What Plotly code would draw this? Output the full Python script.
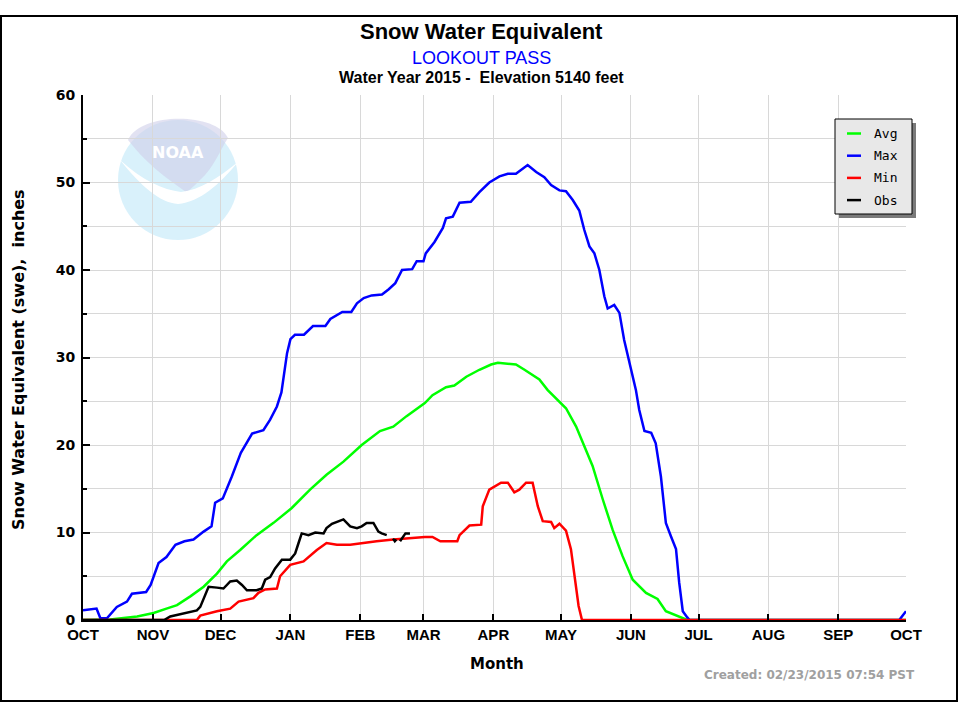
import pandas as pd
import plotly.graph_objects as go

# water year 2015, day offsets counted from Oct 1 2014
start = pd.Timestamp("2014-10-01")

avg_day = [0, 12, 24, 31.3, 37, 41.7, 47.6, 53.5, 59.4, 63.8, 69.7, 77, 84.5, 92.6, 100.7, 108,
           115.5, 123.6, 131.7, 137.6, 143.5, 151.6, 155, 161, 164.7, 170, 175.8, 181, 184, 192,
           195.8, 202.4, 206, 211.3, 214.2, 218.7, 223, 226, 230.5, 234.9, 239.3, 243.8, 249.7,
           254.8, 258.5, 263, 266, 268, 365]
avg_swe = [0, 0.05, 0.4, 0.8, 1.3, 1.7, 2.7, 3.8, 5.3, 6.7, 8.0, 9.7, 11.1, 12.8, 14.9, 16.6,
           18.1, 20.0, 21.6, 22.1, 23.3, 24.8, 25.7, 26.6, 26.8, 27.8, 28.6, 29.2, 29.4, 29.2,
           28.6, 27.5, 26.3, 25.0, 24.2, 22.1, 19.5, 17.6, 13.8, 10.3, 7.3, 4.6, 3.1,
           2.4, 1.0, 0.5, 0.15, 0, 0]

max_day = [0, 3, 6, 7.7, 10.6, 15, 19.5, 21.7, 28, 30, 32, 33.5, 37, 41, 45, 49, 53.5, 57, 58.6,
           62, 66, 70, 75, 80, 83, 86, 88, 89.5, 90.5, 92, 94, 98, 102, 107.5, 109.7, 115, 119,
           121.5, 124.5, 128, 132.6, 135.6, 138.5, 141.5, 146, 148, 151, 152, 155.9, 159.6, 161,
           164, 167, 172, 175.8, 180.2, 184.7, 188.4, 192, 197.2, 201, 204.6, 207.6, 211.3,
           214.2, 217.2, 220.1, 222.3, 224.6, 226.8, 229, 231.2, 232.7, 235.6, 237.9, 240,
           242.3, 245.2, 246.7, 249, 252, 254, 256.3, 258.5, 260.7, 263, 264.4, 266, 268, 269,
           362, 364.5, 365]
max_swe = [1.1, 1.2, 1.3, 0.2, 0.2, 1.5, 2.1, 3.0, 3.2, 4.0, 5.3, 6.5, 7.2, 8.6, 9.0, 9.2, 10.1,
           10.7, 13.4, 13.9, 16.4, 19.1, 21.3, 21.7, 22.9, 24.4, 26.0, 28.6, 30.5, 32.1, 32.6,
           32.6, 33.6, 33.6, 34.4, 35.2, 35.2, 36.2, 36.8, 37.1, 37.2, 37.8, 38.5, 40.0, 40.1,
           41.0, 41.0, 41.9, 43.2, 44.8, 45.9, 46.1, 47.7, 47.8, 48.9, 50.0, 50.7, 51.0, 51.0,
           52.0, 51.2, 50.6, 49.7, 49.1, 49.0, 48.0, 46.8, 44.6, 42.7, 41.9, 40.0, 37.0, 35.6,
           36.0, 35.1, 32.0, 29.4, 26.3, 24.0, 21.6, 21.4, 20.2, 16.4, 11.1, 9.6, 8.1, 4.3, 1.0,
           0.3, 0, 0, 0.9, 1.0]

min_day = [0, 50.5, 52, 59.4, 65.3, 69, 75.6, 77.8, 80.8, 86, 87.4, 91.9, 97.8, 103.7, 108,
           112.6, 118.5, 123.6, 130.2, 137.6, 145, 151.6, 155, 158.5, 166, 167, 171.4, 176.6,
           177.3, 180.2, 185.4, 188.4, 191.3, 193.5, 196.5, 199.4, 201.7, 203.9, 207.6, 209,
           211.3, 214.2, 216.4, 217.9, 219.8, 221.3, 365]
min_swe = [0, 0, 0.5, 1.0, 1.3, 2.1, 2.5, 3.1, 3.5, 3.6, 5.0, 6.3, 6.7, 8.0, 8.8,
           8.6, 8.6, 8.8, 9.0, 9.2, 9.4, 9.5, 9.5, 9.0, 9.0, 9.7, 10.8, 10.9,
           13.0, 14.9, 15.7, 15.7, 14.6, 14.9, 15.7, 15.7, 13.0, 11.3, 11.2, 10.5,
           11.0, 10.2, 8.1, 5.0, 1.6, 0, 0]

obs_day = [0, 36, 38.7, 42.4, 46, 50.5, 52, 53.5, 55.7, 59.4, 62.3, 65.3, 68.2, 70.5, 72.7, 77,
           79.3, 80.8, 83, 85.2, 88.2, 91.9, 94.1, 95.6, 97, 100, 103, 106.7, 108, 110.4, 114,
           115.5, 118.5, 121.5, 123.6, 125.8, 128.8, 131, 132.5, 134.7, 136, 137.5, 138.3, 139,
           139.8, 140.6, 142, 143, 145]
obs_swe = [0, 0, 0.4, 0.6, 0.8, 1.1, 1.5, 2.5, 3.8, 3.7, 3.6, 4.4, 4.5, 4.0, 3.4, 3.4,
           3.6, 4.6, 4.9, 5.9, 6.9, 6.9, 7.6, 8.8, 9.9, 9.7, 10.0, 9.9, 10.5, 11.0, 11.4,
           11.5, 10.7, 10.5, 10.7, 11.1, 11.1, 10.1, 9.9, 9.7, None, 9.3, 9.0, 9.2,
           None, 9.0, 9.5, 9.9, 9.9]

month_starts = pd.date_range("2014-10-01", "2015-10-01", freq="MS")
month_labels = ["OCT", "NOV", "DEC", "JAN", "FEB", "MAR", "APR", "MAY", "JUN", "JUL", "AUG", "SEP", "OCT"]

series = [("Avg", avg_day, avg_swe, "#00ff00"),
          ("Max", max_day, max_swe, "#0000ff"),
          ("Min", min_day, min_swe, "#ff0000"),
          ("Obs", obs_day, obs_swe, "#000000")]

W, H = 960, 720
L, R, T, B = 83, 906, 95, 620


def px(x):
    return (x - L) / (R - L)


def py(y):
    return (B - y) / (B - T)


def path(pts):
    s = ""
    for p in pts:
        if isinstance(p, str):
            s += p + " "
        else:
            s += "%.5f,%.5f " % (px(p[0]), py(p[1]))
    return s + "Z"


fig = go.Figure()
for name, days, vals, col in series:
    fig.add_trace(go.Scatter(x=start + pd.to_timedelta(days, unit="D"), y=vals, name=name,
                             mode="lines", line=dict(color=col, width=2.5),
                             connectgaps=False, showlegend=False))

shapes = []
# outer frame
shapes.append(dict(type="rect", xref="paper", yref="paper", x0=px(1), x1=px(957), y0=py(701), y1=py(16),
                   line=dict(color="black", width=2), layer="below"))
# faded NOAA logo, see-through so the grid shows
logo = dict(xref="x domain", yref="y domain", layer="below", line=dict(width=0), opacity=0.6)
shapes.append(dict(type="circle", x0=px(118), x1=px(238), y0=py(240), y1=py(120),
                   fillcolor="#bfe8f8", **logo))
shapes.append(dict(type="path",
                   path=path(["M", (128, 140), "C", (140, 112), (216, 112), (228, 138),
                              "C", (220, 150), (214, 168), (200, 180), "C", (194, 186), (190, 190), (186, 192),
                              "C", (170, 180), (150, 168), (128, 140)]),
                   fillcolor="#cfcfe9", **logo))
shapes.append(dict(type="path",
                   path=path(["M", (120, 160), "C", (140, 185), (160, 203), (178, 204), "C", (200, 202), (220, 184), (238, 162),
                              "C", (218, 178), (200, 190), (181, 192), "C", (163, 190), (142, 180), (120, 160)]),
                   fillcolor="white", xref="x domain", yref="y domain", layer="below", line=dict(width=0)))

# legend box with shadow
shapes.append(dict(type="rect", xref="paper", yref="paper", x0=px(839), x1=px(916), y0=py(218), y1=py(123),
                   fillcolor="#7a7a7a", line=dict(width=0), layer="above"))
shapes.append(dict(type="rect", xref="paper", yref="paper", x0=px(835), x1=px(912), y0=py(214), y1=py(119),
                   fillcolor="#e8e8e8", line=dict(color="black", width=1), layer="above"))

annotations = []
for i, (name, days, vals, col) in enumerate(series):
    yy = 133.5 + i * 22.2
    shapes.append(dict(type="line", xref="paper", yref="paper", x0=px(847), x1=px(861), y0=py(yy), y1=py(yy),
                       line=dict(color=col, width=2.5), layer="above"))
    annotations.append(dict(text=name, x=px(872), y=py(yy), xanchor="left",
                            font=dict(family="DejaVu Sans Mono", size=13, color="black")))

annotations += [
    dict(text="NOAA", x=px(178), y=py(152), font=dict(family="DejaVu Sans", size=16, color="white", weight="bold")),
    dict(text="Snow Water Equivalent", x=px(481), y=py(32),
         font=dict(family="Liberation Sans", size=22, color="black", weight="bold")),
    dict(text="LOOKOUT PASS", x=px(481), y=py(58),
         font=dict(family="Liberation Sans", size=18, color="#0000ff")),
    dict(text="Water Year 2015 -  Elevation 5140 feet", x=px(481), y=py(77),
         font=dict(family="Liberation Sans", size=16, color="black", weight="bold")),
    dict(text="Month", x=px(497), y=py(664),
         font=dict(family="DejaVu Sans", size=15, color="black", weight="bold")),
    dict(text="Created: 02/23/2015 07:54 PST", x=px(917), y=py(675), xanchor="right",
         font=dict(family="DejaVu Sans", size=12, color="#a0a0a0", weight="bold")),
    dict(text="Snow Water Equivalent (swe),  inches", x=px(18), y=py(360), textangle=-90,
         font=dict(family="DejaVu Sans", size=16, color="black", weight="bold")),
]
for a in annotations:
    a.setdefault("xref", "paper")
    a.setdefault("yref", "paper")
    a.setdefault("showarrow", False)
    a.setdefault("xanchor", "center")
    a.setdefault("yanchor", "middle")

fig.update_layout(
    width=W, height=H,
    margin=dict(l=L, r=W - R, t=T, b=H - B),
    paper_bgcolor="white", plot_bgcolor="white",
    shapes=shapes, annotations=annotations,
    xaxis=dict(type="date", range=[month_starts[0], month_starts[-1]],
               tickvals=month_starts, ticktext=month_labels,
               ticks="inside", ticklen=6, tickwidth=2, tickcolor="black",
               showgrid=True, gridcolor="#d8d8d8", gridwidth=1,
               showline=True, linecolor="black", linewidth=2, zeroline=False,
               tickfont=dict(family="Liberation Sans", size=15, color="black", weight="bold")),
    yaxis=dict(range=[0, 60], dtick=10, ticks="inside", ticklen=7, tickwidth=2, tickcolor="black",
               showgrid=True, gridcolor="#d8d8d8", gridwidth=1,
               minor=dict(dtick=5, ticks="inside", ticklen=4, tickcolor="black", showgrid=True,
                          gridcolor="#d8d8d8", gridwidth=1),
               showline=True, linecolor="black", linewidth=2, zeroline=False,
               ticklabelstandoff=3,
               tickfont=dict(family="DejaVu Sans", size=14, color="black", weight="bold")),
)

fig.write_html("out.html", config={"displayModeBar": False},
               post_script="document.body.style.margin='0';")
